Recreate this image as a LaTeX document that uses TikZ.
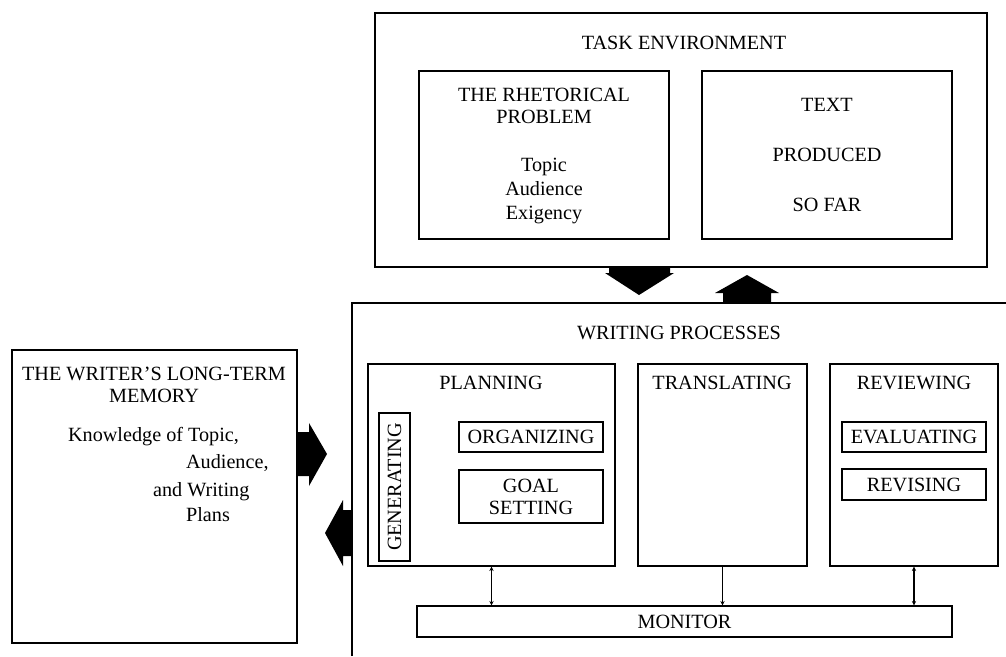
\documentclass[tikz,border=0pt]{standalone}
\usepackage{fontspec}
\setmainfont{Liberation Serif}
\usetikzlibrary{arrows.meta, fit, positioning}

\begin{document}
\begin{tikzpicture}[x=0.02cm, y=-0.02cm,
    box/.style={draw, line width=0.7pt, inner sep=0pt},
    lbl/.style={font=\fontsize{11.5}{12.5}\selectfont, align=center, inner sep=1pt},
    tick/.style={line width=0.6pt, >={Stealth[length=2.5pt, width=2.5pt]}}]
    \useasboundingbox (0,0) rectangle (1006,656);

    % task environment
    \node[box, fit={(375,13) (987,267)}] (task) {};
    \node[lbl] (taskT) at (684,43) {TASK ENVIRONMENT};
    \node[box, fit={(419,71) (669,239)}] (rhet) {};
    \node[lbl] (rhetT) at (544,106) {THE RHETORICAL\\PROBLEM};
    \node[lbl, font=\fontsize{11.5}{13.6}\selectfont] (rhetL) at (544,191) {Topic\\Audience\\Exigency};
    \node[box, fit={(702,71) (952,239)}] (text) {};
    \node[lbl, font=\fontsize{11.5}{28.5}\selectfont] (textT) at (827,155) {TEXT\\PRODUCED\\SO FAR};

    % long-term memory
    \node[box, fit={(12,350) (297,643)}] (ltm) {};
    \node[lbl] (ltmT) at (154,385) {THE WRITER'S LONG-TERM\\MEMORY};
    \node[lbl, anchor=west] (ltmA) at (66,437) {Knowledge of Topic,};
    \node[lbl, anchor=west] (ltmB) at (184,463) {Audience,};
    \node[lbl, anchor=west] (ltmC) at (151,492) {and Writing};
    \node[lbl, anchor=west] (ltmD) at (184,515) {Plans};

    % writing processes (runs off the page)
    \coordinate (wp) at (352,303);
    \draw[line width=0.7pt] (352,656) -- (wp) -- (1006,303);
    \node[lbl] (wpT) at (679,333) {WRITING PROCESSES};

    \node[box, fit={(368,364) (615,566)}] (plan) {};
    \node[lbl] (planT) at (491,383) {PLANNING};
    \node[box, fit={(379,413) (410,561)}] (gen) {};
    \node[lbl, rotate=90] (genT) at (gen.center) {GENERATING};
    \node[box, fit={(459,422) (603,452)}] (org) {};
    \node[lbl] at (org.center) {ORGANIZING};
    \node[box, fit={(459,470) (603,523)}] (goal) {};
    \node[lbl] at (goal.center) {GOAL\\SETTING};

    \node[box, fit={(638,364) (807,566)}] (trans) {};
    \node[lbl] (transT) at (722,383) {TRANSLATING};

    \node[box, fit={(830,364) (998,566)}] (rev) {};
    \node[lbl] (revT) at (914,383) {REVIEWING};
    \node[box, fit={(842,422) (986,452)}] (eval) {};
    \node[lbl] at (eval.center) {EVALUATING};
    \node[box, fit={(842,469) (986,500)}] (revis) {};
    \node[lbl] at (revis.center) {REVISING};

    \node[box, fit={(417,606) (952,637)}] (mon) {};
    \node[lbl] at (mon.center) {MONITOR};

    % links to the monitor
    \draw[tick, <->] (plan.south) -- (plan.south |- mon.north);
    \draw[tick, ->] (trans.south) -- (trans.south |- mon.north);
    \draw[tick, <->] (rev.south) -- (rev.south |- mon.north);

    % block arrows
    \fill (609,267) -- (670,267) -- (670,273) -- (674,273) -- (639,295) -- (605,273) -- (609,273) -- cycle;
    \fill (723,303) -- (723,293) -- (715,293) -- (747,275) -- (779,293) -- (771,293) -- (771,303) -- cycle;
    \fill (297,432) -- (309,432) -- (309,423) -- (327,454) -- (309,486) -- (309,476) -- (297,476) -- cycle;
    \fill (352,510) -- (343,510) -- (343,500) -- (325,533) -- (343,566) -- (343,556) -- (352,556) -- cycle;
\end{tikzpicture}
\end{document}
